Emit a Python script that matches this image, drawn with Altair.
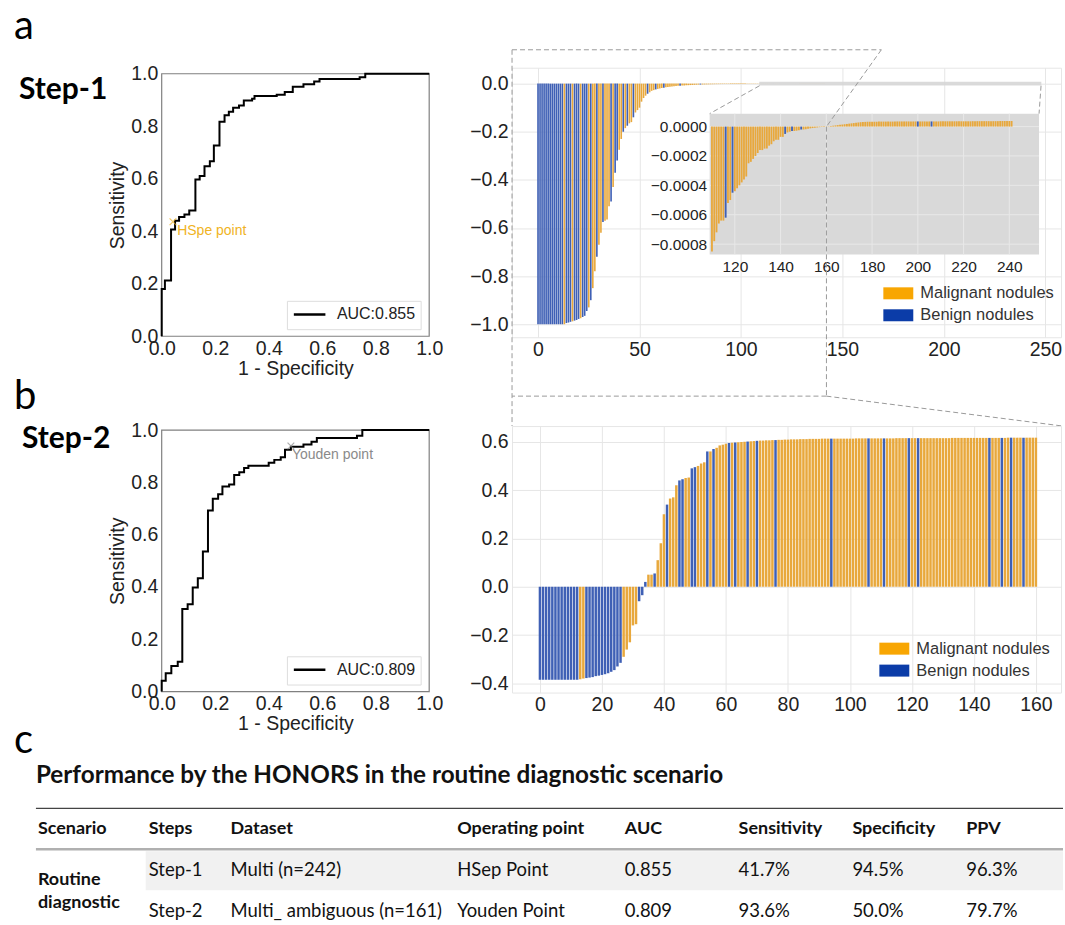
import altair as alt
import pandas as pd

# ---------------- data ----------------
roc1_fpr = [0, 0, 0.012, 0.035, 0.05, 0.065, 0.085, 0.103, 0.126, 0.142, 0.16, 0.18, 0.195, 0.216,
            0.235, 0.251, 0.267, 0.289, 0.307, 0.338, 0.347, 0.43, 0.46, 0.49, 0.53, 0.57, 0.59,
            0.74, 0.761, 1.0]
roc1_tpr = [0, 0.18, 0.212, 0.407, 0.44, 0.454, 0.464, 0.479, 0.597, 0.61, 0.648, 0.667, 0.727, 0.817,
            0.842, 0.855, 0.87, 0.879, 0.898, 0.905, 0.915, 0.92, 0.93, 0.95, 0.96, 0.97, 0.98,
            0.987, 1.0, 1.0]
roc2_fpr = [0, 0, 0.015, 0.036, 0.06, 0.077, 0.097, 0.116, 0.135, 0.154, 0.173, 0.191, 0.211, 0.227,
            0.252, 0.271, 0.29, 0.308, 0.324, 0.40, 0.421, 0.445, 0.461, 0.483, 0.53, 0.56, 0.58,
            0.73, 0.75, 1.0]
roc2_tpr = [0, 0.041, 0.07, 0.098, 0.114, 0.316, 0.334, 0.398, 0.433, 0.536, 0.692, 0.737, 0.755, 0.784,
            0.792, 0.828, 0.839, 0.855, 0.864, 0.875, 0.886, 0.896, 0.925, 0.936, 0.945, 0.955, 0.97,
            0.978, 1.0, 1.0]
roc1_point = [0.042, 0.436]
roc2_point = [0.483, 0.939]

wf1_vals = [
    -1.0, -1.0, -1.0, -1.0, -1.0, -1.0, -1.0, -1.0, -1.0, -1.0,
    -1.0, -1.0, -1.0, -1.0, -0.995, -0.993, -0.99, -0.988, -0.985, -0.982,
    -0.978, -0.975, -0.97, -0.965, -0.945, -0.93, -0.90, -0.85, -0.78, -0.72,
    -0.67, -0.62, -0.575, -0.57, -0.565, -0.51, -0.49, -0.43, -0.37, -0.32,
    -0.275, -0.23, -0.20, -0.185, -0.175, -0.165, -0.16, -0.14, -0.12, -0.11,
    -0.10, -0.075, -0.06, -0.05, -0.042, -0.036, -0.03, -0.027, -0.024, -0.022,
    -0.02, -0.018, -0.017, -0.015, -0.014, -0.013, -0.012, -0.011, -0.01, -0.009,
    -0.0085, -0.008, -0.0075, -0.007, -0.0065, -0.006, -0.0055, -0.005, -0.0045, -0.004,
    -0.0038, -0.0035, -0.0033, -0.003, -0.0028, -0.0026, -0.0024, -0.0022, -0.002, -0.0019,
    -0.0018, -0.0017, -0.0016, -0.0015, -0.0014, -0.0014, -0.0013, -0.0013, -0.0012, -0.0012,
    -0.0011, -0.0011, -0.0011, -0.001, -0.001, -0.001, -0.00095, -0.0009, -0.0009, -0.00088,
    -0.00085, -0.00078, -0.00072, -0.00066, -0.00064, -0.00064, -0.00062, -0.00052, -0.0005, -0.00045,
    -0.00044, -0.00042, -0.0004, -0.00038, -0.00036, -0.00034, -0.00025, -0.00024, -0.00022, -0.0002,
    -0.00018, -0.00016, -0.00016, -0.00015, -0.00015, -0.00013, -0.00012, -0.0001, -0.00009, -0.00009,
    -0.00007, -0.00007, -0.00005, -0.00004, -0.000035, -0.00003, -0.00003, -0.000028, -0.000025, -0.00002,
    -0.00002, -0.000018, -0.000015, -0.000012, -0.00001, -0.000008, -0.000006, -0.000004, -0.000003, -0.000002,
    -0.000001, 0.000002, 0.000004, 0.000006, 0.000008, 0.00001, 0.000012, 0.000014, 0.000016, 0.000018,
    0.00002, 0.000022, 0.000024, 0.000026, 0.000028, 0.00003, 0.000031, 0.000032, 0.000033, 0.000033,
    0.000033, 0.000033, 0.000033, 0.000034, 0.000034, 0.000034, 0.000034, 0.000034, 0.000034, 0.000034,
    0.000035, 0.000035, 0.000035, 0.000035, 0.000035, 0.000035, 0.000035, 0.000035, 0.000035, 0.000035,
    0.000035, 0.000035, 0.000035, 0.000035, 0.000035, 0.000035, 0.000035, 0.000035, 0.000035, 0.000035,
    0.000036, 0.000036, 0.000036, 0.000036, 0.000036, 0.000036, 0.000036, 0.000036, 0.000036, 0.000036,
    0.000036, 0.000036, 0.000036, 0.000036, 0.000037, 0.000037, 0.000037, 0.000037, 0.000037, 0.000037,
    0.000037, 0.000037, 0.000037, 0.000037, 0.000037, 0.000037, 0.000038, 0.000038, 0.000038, 0.000038,
    0.000038, 0.000038,
]
# M = malignant nodule, B = benign nodule
wf1_cls = ("BBBBBBBBBBBBB" "M" "BBB" "M" "BBB" "M" "BBB" "M" "B" "MM" "B" "MM" "B" "MMM" "B" "M"
           "BB" "MM" "B" "M" "B" "MM" "B" "MMMMMM" "B" "MMM" "B" "MMM" "B" "MMMMMMM" "B"
           "MMMMMMMMM" "B" "MMMMMMMMMM" "MMMMMMMMMM" "MMMMMMMMMM" "MMMMM" "B" "MM" "B"
           "MMMMMMMMMM" "MMMMMMMMMM" "MM" "B" "MM" "B" "MMM" "B"
           "MMMMMMMMMM" "MMMMMMMMMM" "MMMMMMMMMM" "MMMMMMMMMM" "MMMMMMMMMM" "B" "MMMMM" "B"
           "MMMMMMMMMM" "MMMMMMMMMM" "MMMMMMMMMM" "MMMMM")

wf2_vals = [
    -0.385, -0.385, -0.385, -0.385, -0.385, -0.385, -0.385, -0.385, -0.385, -0.385,
    -0.385, -0.385, -0.385, -0.383, -0.38, -0.378, -0.376, -0.374, -0.37, -0.368,
    -0.365, -0.362, -0.358, -0.352, -0.345, -0.33, -0.315, -0.29, -0.26, -0.23,
    -0.16, -0.155, -0.06, -0.035, 0.02, 0.05, 0.05, 0.055, 0.11, 0.18,
    0.30, 0.34, 0.365, 0.37, 0.42, 0.44, 0.445, 0.45, 0.452, 0.49,
    0.495, 0.50, 0.51, 0.515, 0.56, 0.56, 0.57, 0.575, 0.585, 0.588,
    0.592, 0.595, 0.596, 0.597, 0.598, 0.599, 0.600, 0.601, 0.602, 0.603,
    0.604, 0.605, 0.605, 0.606, 0.606, 0.607, 0.607, 0.608, 0.608, 0.609,
    0.609, 0.61, 0.61, 0.61, 0.611, 0.611, 0.611, 0.612, 0.612, 0.612,
    0.612, 0.613, 0.613, 0.613, 0.613, 0.613, 0.613, 0.613, 0.613, 0.613,
    0.613, 0.613, 0.614, 0.614, 0.614, 0.614, 0.614, 0.614, 0.614, 0.614,
    0.614, 0.614, 0.614, 0.614, 0.614, 0.615, 0.615, 0.615, 0.615, 0.615,
    0.615, 0.615, 0.615, 0.615, 0.615, 0.615, 0.615, 0.615, 0.615, 0.615,
    0.615, 0.615, 0.615, 0.616, 0.616, 0.616, 0.616, 0.616, 0.616, 0.616,
    0.616, 0.616, 0.616, 0.616, 0.616, 0.616, 0.616, 0.616, 0.616, 0.616,
    0.616, 0.617, 0.617, 0.617, 0.617, 0.617, 0.617, 0.617, 0.617, 0.617,
    0.617,
]
wf2_cls = ("BBBBBBBBBBBBB" "MM" "BBBBBBBBBBBB" "MMMMM" "BBB" "MM" "B" "MMM" "B" "MMM" "BB" "MM"
           "BB" "MMM" "B" "M" "B" "MMMM" "B" "M" "B" "MMM" "B" "MM" "B" "MMMMM" "B"
           "MMMMMMMMMM" "MMMMMMM" "B" "MMMMMMMMMM" "M" "B" "MMMM" "B" "MMMMMMM" "B" "MM" "B"
           "MMMMMMMMMM" "MMMMMMMMMM" "MM" "B" "MMM" "B" "MM" "B" "MMM" "B" "MMMM")

assert len(wf1_vals) == 242 and len(wf1_cls) == 242, (len(wf1_vals), len(wf1_cls))
assert len(wf2_vals) == 161 and len(wf2_cls) == 161, (len(wf2_vals), len(wf2_cls))

table_title = "Performance by the HONORS in the routine diagnostic scenario"
table_cols = ["Scenario", "Steps", "Dataset", "Operating point", "AUC", "Sensitivity", "Specificity", "PPV"]
table_row1 = ["Step-1", "Multi (n=242)", "HSep Point", "0.855", "41.7%", "94.5%", "96.3%"]
table_row2 = ["Step-2", "Multi_ ambiguous (n=161)", "Youden Point", "0.809", "93.6%", "50.0%", "79.7%"]
scenario_lines = ["Routine", "diagnostic"]
legend_labels = ["Malignant nodules", "Benign nodules"]

# ---------------- styles / layout ----------------
FONT = "Liberation Sans"
TFONT = "Lato"
ORANGE_BAR = "#E8A83C"
BLUE_BAR = "#3F60B5"
ORANGE_LEG = "#F8A602"
BLUE_LEG = "#0B3CA8"
GRID = "#e6e6e6"
TXT = "#222222"
ROC_FS = 19.5
WF_FS = 19.5
IN_FS = 15.5

ROC_W, WF_W = 268, 550
ROW1_H, ROW2_H = 270, 267
HSP, VSP = 83, 89

cscale = alt.Scale(domain=["M", "B"], range=[ORANGE_BAR, BLUE_BAR])


def one():
    return pd.DataFrame({"k": [0]})


def roc_panel(fpr, tpr, height, y_top, y_bot, auc_label, point, p_label, p_color, p_text_xy,
              letter, letter_y, step, step_x, step_y, anchor=False):
    xs = alt.Scale(domain=[0, 1], range=[0, ROC_W], nice=False, zero=False)
    ys = alt.Scale(domain=[0, 1], range=[y_bot, y_top], nice=False, zero=False)
    ticks = [0, 0.2, 0.4, 0.6, 0.8, 1.0]
    ax = alt.Axis(values=ticks, format=".1f", title="1 - Specificity", labelFontSize=ROC_FS, titleFontSize=ROC_FS,
                  labelPadding=3, titlePadding=2, offset=-1, grid=False)
    ay = alt.Axis(values=ticks, format=".1f", title="Sensitivity", labelFontSize=ROC_FS, titleFontSize=ROC_FS,
                  labelPadding=4, titlePadding=3, grid=False)

    def X(f):
        return alt.X(f, scale=xs, axis=ax)

    def Y(f):
        return alt.Y(f, scale=ys, axis=ay)

    frame = alt.Chart(pd.DataFrame({"x0": [0], "x1": [1], "y0": [0], "y1": [1]})).mark_rect(
        fill="white", fillOpacity=0, stroke="#808080", strokeWidth=1.2
    ).encode(x=X("x0:Q"), x2="x1:Q", y=Y("y0:Q"), y2="y1:Q")
    curve = alt.Chart(pd.DataFrame({"i": list(range(len(fpr))), "x0": fpr, "y0": tpr})).mark_line(
        interpolate="step-after", color="black", strokeWidth=2
    ).encode(x=X("x0:Q"), y=Y("y0:Q"), order="i:Q")
    pt = alt.Chart(pd.DataFrame({"x0": [point[0]], "y0": [point[1]]})).mark_point(
        shape="M-1,-1L1,1M-1,1L1,-1", size=45, filled=False, color=p_color, strokeWidth=1.2
    ).encode(x=X("x0:Q"), y=Y("y0:Q"))
    ptxt = alt.Chart(pd.DataFrame({"x0": [p_text_xy[0]], "y0": [p_text_xy[1]], "t": [p_label]})).mark_text(
        align="left", baseline="middle", font=FONT, fontSize=14, color=p_color
    ).encode(x=X("x0:Q"), y=Y("y0:Q"), text="t:N")
    lbox = alt.Chart(pd.DataFrame({"x0": [0.47], "x1": [0.97], "y0": [0.025], "y1": [0.133]})).mark_rect(
        fill="white", stroke="#dddddd", strokeWidth=1
    ).encode(x=X("x0:Q"), x2="x1:Q", y=Y("y0:Q"), y2="y1:Q")
    lline = alt.Chart(pd.DataFrame({"x0": [0.494], "x1": [0.612], "y0": [0.083]})).mark_rule(
        color="black", strokeWidth=2.5
    ).encode(x=X("x0:Q"), x2="x1:Q", y=Y("y0:Q"))
    ltxt = alt.Chart(pd.DataFrame({"x0": [0.655], "y0": [0.083], "t": [auc_label]})).mark_text(
        align="left", baseline="middle", font=FONT, fontSize=16, color=TXT
    ).encode(x=X("x0:Q"), y=Y("y0:Q"), text="t:N")
    let = alt.Chart(one()).mark_text(text=letter, font=TFONT, fontSize=40, align="left",
                                     baseline="alphabetic", color="black").encode(
        x=alt.value(-148), y=alt.value(letter_y))
    stp = alt.Chart(one()).mark_text(text=step, font=TFONT, fontSize=30, fontWeight="bold", align="left",
                                     baseline="alphabetic", color="black").encode(
        x=alt.value(step_x), y=alt.value(step_y))
    layers = [frame, curve, pt, ptxt, lbox, lline, ltxt, let, stp]
    if anchor:
        layers.append(alt.Chart(one()).mark_rect(opacity=0).encode(
            x=alt.value(-161), x2=alt.value(-160), y=alt.value(-66), y2=alt.value(-65)))
    return alt.layer(*layers).properties(width=ROC_W, height=height)


def bars(vals, cls, xs, ys, ax, ay, start=0):
    df = pd.DataFrame({"idx": list(range(len(vals))), "val": vals, "cls": list(cls)})
    ch = alt.Chart(df)
    if start:
        ch = ch.transform_filter(f"datum.idx >= {start}")
    return ch.transform_calculate(
        x0="datum.idx - 0.4", x1="datum.idx + 0.4", zero="0"
    ).mark_bar(strokeWidth=0).encode(
        x=alt.X("x0:Q", scale=xs, axis=ax), x2="x1:Q",
        y=alt.Y("val:Q", scale=ys, axis=ay), y2="zero:Q",
        color=alt.Color("cls:N", scale=cscale, legend=None),
    )


def legend_layers(x0, y0):
    sw = pd.DataFrame({"x": [x0, x0], "x2": [x0 + 30, x0 + 30], "y": [y0, y0 + 22], "y2": [y0 + 12, y0 + 34],
                       "c": [ORANGE_LEG, BLUE_LEG]})
    tx = pd.DataFrame({"x": [x0 + 37, x0 + 37], "y": [y0 + 6, y0 + 28], "t": legend_labels})
    r = alt.Chart(sw).mark_rect().encode(
        x=alt.X("x:Q", scale=None), x2="x2", y=alt.Y("y:Q", scale=None), y2="y2",
        color=alt.Color("c:N", scale=None))
    t = alt.Chart(tx).mark_text(align="left", baseline="middle", font=FONT, fontSize=16.5, color="#333333").encode(
        x=alt.X("x:Q", scale=None), y=alt.Y("y:Q", scale=None), text="t:N")
    return [r, t]


def wf_axes(xvals, yvals):
    ax = alt.Axis(values=xvals, format="d", grid=True, gridColor=GRID, labelFontSize=WF_FS, labelPadding=3, title=None)
    ay = alt.Axis(values=yvals, format=".1f", grid=True, gridColor=GRID, labelFontSize=WF_FS, labelPadding=4, title=None)
    return ax, ay


# ---- waterfall step-1 with inset ----
xs1 = alt.Scale(domain=[-12.8, 257.7], nice=False, zero=False)
ys1 = alt.Scale(domain=[-1.054, 0.066], nice=False, zero=False)
ax1, ay1 = wf_axes([0, 50, 100, 150, 200, 250], [0, -0.2, -0.4, -0.6, -0.8, -1.0])
main1 = bars(wf1_vals, wf1_cls, xs1, ys1, ax1, ay1)
band = alt.Chart(pd.DataFrame({"x0": [109], "x1": [248], "val": [-0.008], "y1": [0.008]})).mark_rect(
    fill="#d6d6d6", opacity=0.9
).encode(x=alt.X("x0:Q", scale=xs1, axis=ax1), x2="x1:Q", y=alt.Y("val:Q", scale=ys1, axis=ay1), y2="y1:Q")
main_layer = alt.layer(main1, band)

IX = [109, 253]
IY = [-0.00087, 0.000088]
xsi = alt.Scale(domain=IX, range=[198, 528], nice=False, zero=False)
ysi = alt.Scale(domain=IY, range=[187, 46], nice=False, zero=False)
axi = alt.Axis(values=[120, 140, 160, 180, 200, 220, 240], format="d", grid=False, orient="bottom",
               offset=-83, labelFontSize=IN_FS, labelPadding=5, title=None)
ayi = alt.Axis(values=[0, -0.0002, -0.0004, -0.0006, -0.0008], format=".4f", grid=False, orient="left",
               offset=-198, labelFontSize=IN_FS, labelPadding=3, title=None)
ibg = alt.Chart(pd.DataFrame({"x0": [IX[0]], "x1": [IX[1]], "val": [IY[0]], "y1": [IY[1]]})).mark_rect(
    fill="#d9d9d9"
).encode(x=alt.X("x0:Q", scale=xsi, axis=axi), x2="x1:Q", y=alt.Y("val:Q", scale=ysi, axis=ayi), y2="y1:Q")
igx = alt.Chart(pd.DataFrame({"x0": [120, 140, 160, 180, 200, 220, 240], "val": IY[0], "y1": IY[1]})).mark_rule(
    color="#e8e8e8", strokeWidth=1
).encode(x=alt.X("x0:Q", scale=xsi, axis=axi), y=alt.Y("val:Q", scale=ysi, axis=ayi), y2="y1:Q")
igy = alt.Chart(pd.DataFrame({"val": [0, -0.0002, -0.0004, -0.0006, -0.0008], "x0": IX[0], "x1": IX[1]})).mark_rule(
    color="#e8e8e8", strokeWidth=1
).encode(y=alt.Y("val:Q", scale=ysi, axis=ayi), x=alt.X("x0:Q", scale=xsi, axis=axi), x2="x1:Q")
ibars = bars(wf1_vals, wf1_cls, xsi, ysi, axi, ayi, start=110)
inset = alt.layer(ibg, igx, igy, ibars)

seg1 = pd.DataFrame({
    "x": [0, 370, 315, 315, 0, 315, 248, 530],
    "y": [-18, -18, 59, 329, -18, 329, 18, 18],
    "x2": [370, 315, 315, 0, 0, 552, 198, 528],
    "y2": [-18, 59, 329, 329, 359, 359, 46, 46],
})
conn1 = alt.Chart(seg1).mark_rule(color="#9a9a9a", strokeWidth=1, strokeDash=[5, 3]).encode(
    x=alt.X("x:Q", scale=None), y=alt.Y("y:Q", scale=None), x2="x2:Q", y2="y2:Q")
overlay1 = alt.layer(conn1, *legend_layers(372, 220))

wf1 = alt.layer(main_layer, inset, overlay1).resolve_scale(x="independent", y="independent").properties(
    width=WF_W, height=ROW1_H, view=alt.ViewBackground(stroke=GRID))

# ---- waterfall step-2 ----
xs2 = alt.Scale(domain=[-9.0, 168.1], nice=False, zero=False)
ys2 = alt.Scale(domain=[-0.438, 0.665], nice=False, zero=False)
ax2, ay2 = wf_axes([0, 20, 40, 60, 80, 100, 120, 140, 160], [0.6, 0.4, 0.2, 0, -0.2, -0.4])
main2 = bars(wf2_vals, wf2_cls, xs2, ys2, ax2, ay2)
wf2 = alt.layer(main2, *legend_layers(368, 217)).properties(
    width=WF_W, height=ROW2_H, view=alt.ViewBackground(stroke=GRID))

# ---- ROC panels ----
roc1 = roc_panel(roc1_fpr, roc1_tpr, ROW1_H, 6, 269, "AUC:0.855", roc1_point, "HSpe point", "#F0B323",
                 [0.058, 0.40], "a", -29, "Step-1", -143, 31, anchor=True)
roc2 = roc_panel(roc2_fpr, roc2_tpr, ROW2_H, 4, 266, "AUC:0.809", roc2_point, "Youden point", "#8a8a8a",
                 [0.487, 0.905], "b", -17, "Step-2", -140, 22)

# ---- table (page coordinates mapped through scales) ----
TW, TH = 268, 143
xst = alt.Scale(domain=[0, 1065], range=[-161, 904], nice=False, zero=False)
yst = alt.Scale(domain=[0, 925], range=[-781, 144], nice=False, zero=False)
col_x = [37, 148, 230, 457, 625, 739, 853, 967]


def TX(f):
    return alt.X(f, scale=xst, axis=None)


def TY(f):
    return alt.Y(f, scale=yst, axis=None)


def ttext(df, size, weight="normal", font=TFONT, color="#111111"):
    return alt.Chart(df).mark_text(align="left", baseline="middle", font=font, fontSize=size,
                                   fontWeight=weight, color=color).encode(
        x=TX("x:Q"), y=TY("y:Q"), text="t:N")


t_title = ttext(pd.DataFrame({"x": [35], "y": [776], "t": [table_title]}), 24.3, "bold")
t_head = ttext(pd.DataFrame({"x": col_x, "y": [829] * 8, "t": table_cols}), 18, "bold")
t_r1 = ttext(pd.DataFrame({"x": col_x[1:], "y": [870] * 7, "t": table_row1}), 18.5)
t_r2 = ttext(pd.DataFrame({"x": col_x[1:], "y": [911] * 7, "t": table_row2}), 18.5)
t_scn = ttext(pd.DataFrame({"x": [37, 37], "y": [880, 903], "t": scenario_lines}), 18, "bold")
t_c = alt.Chart(pd.DataFrame({"x": [13], "y": [753], "t": ["c"]})).mark_text(
    align="left", baseline="alphabetic", font=TFONT, fontSize=40, color="black").encode(
    x=TX("x:Q"), y=TY("y:Q"), text="t:N")
t_band = alt.Chart(pd.DataFrame({"x": [145], "x1": [1064], "y": [851], "y1": [890]})).mark_rect(
    fill="#f1f1f1").encode(x=TX("x:Q"), x2="x1:Q", y=TY("y:Q"), y2="y1:Q")
t_line1 = alt.Chart(pd.DataFrame({"x": [35], "x1": [1064], "y": [808]})).mark_rule(
    color="#444444", strokeWidth=1.2).encode(x=TX("x:Q"), x2="x1:Q", y=TY("y:Q"))
t_line2 = alt.Chart(pd.DataFrame({"x": [35], "x1": [1064], "y": [849]})).mark_rule(
    color="#b0b0b0", strokeWidth=2.5).encode(x=TX("x:Q"), x2="x1:Q", y=TY("y:Q"))
table = alt.layer(t_band, t_line1, t_line2, t_title, t_head, t_scn, t_r1, t_r2, t_c).properties(
    width=TW, height=TH)

chart = alt.concat(
    roc1, wf1, roc2, wf2, table, columns=2, spacing={"row": VSP, "column": HSP}, bounds="flush"
).properties(
    padding=0
).configure(background="white").configure_view(stroke="transparent").configure_axis(
    labelFont=FONT, titleFont=FONT, labelColor=TXT, titleColor=TXT, titleFontWeight="normal",
    domain=False, ticks=False, labelFlush=False, labelOverlap=False, gridColor=GRID
)

chart.save("out.html", embed_options={"renderer": "svg", "actions": False})
